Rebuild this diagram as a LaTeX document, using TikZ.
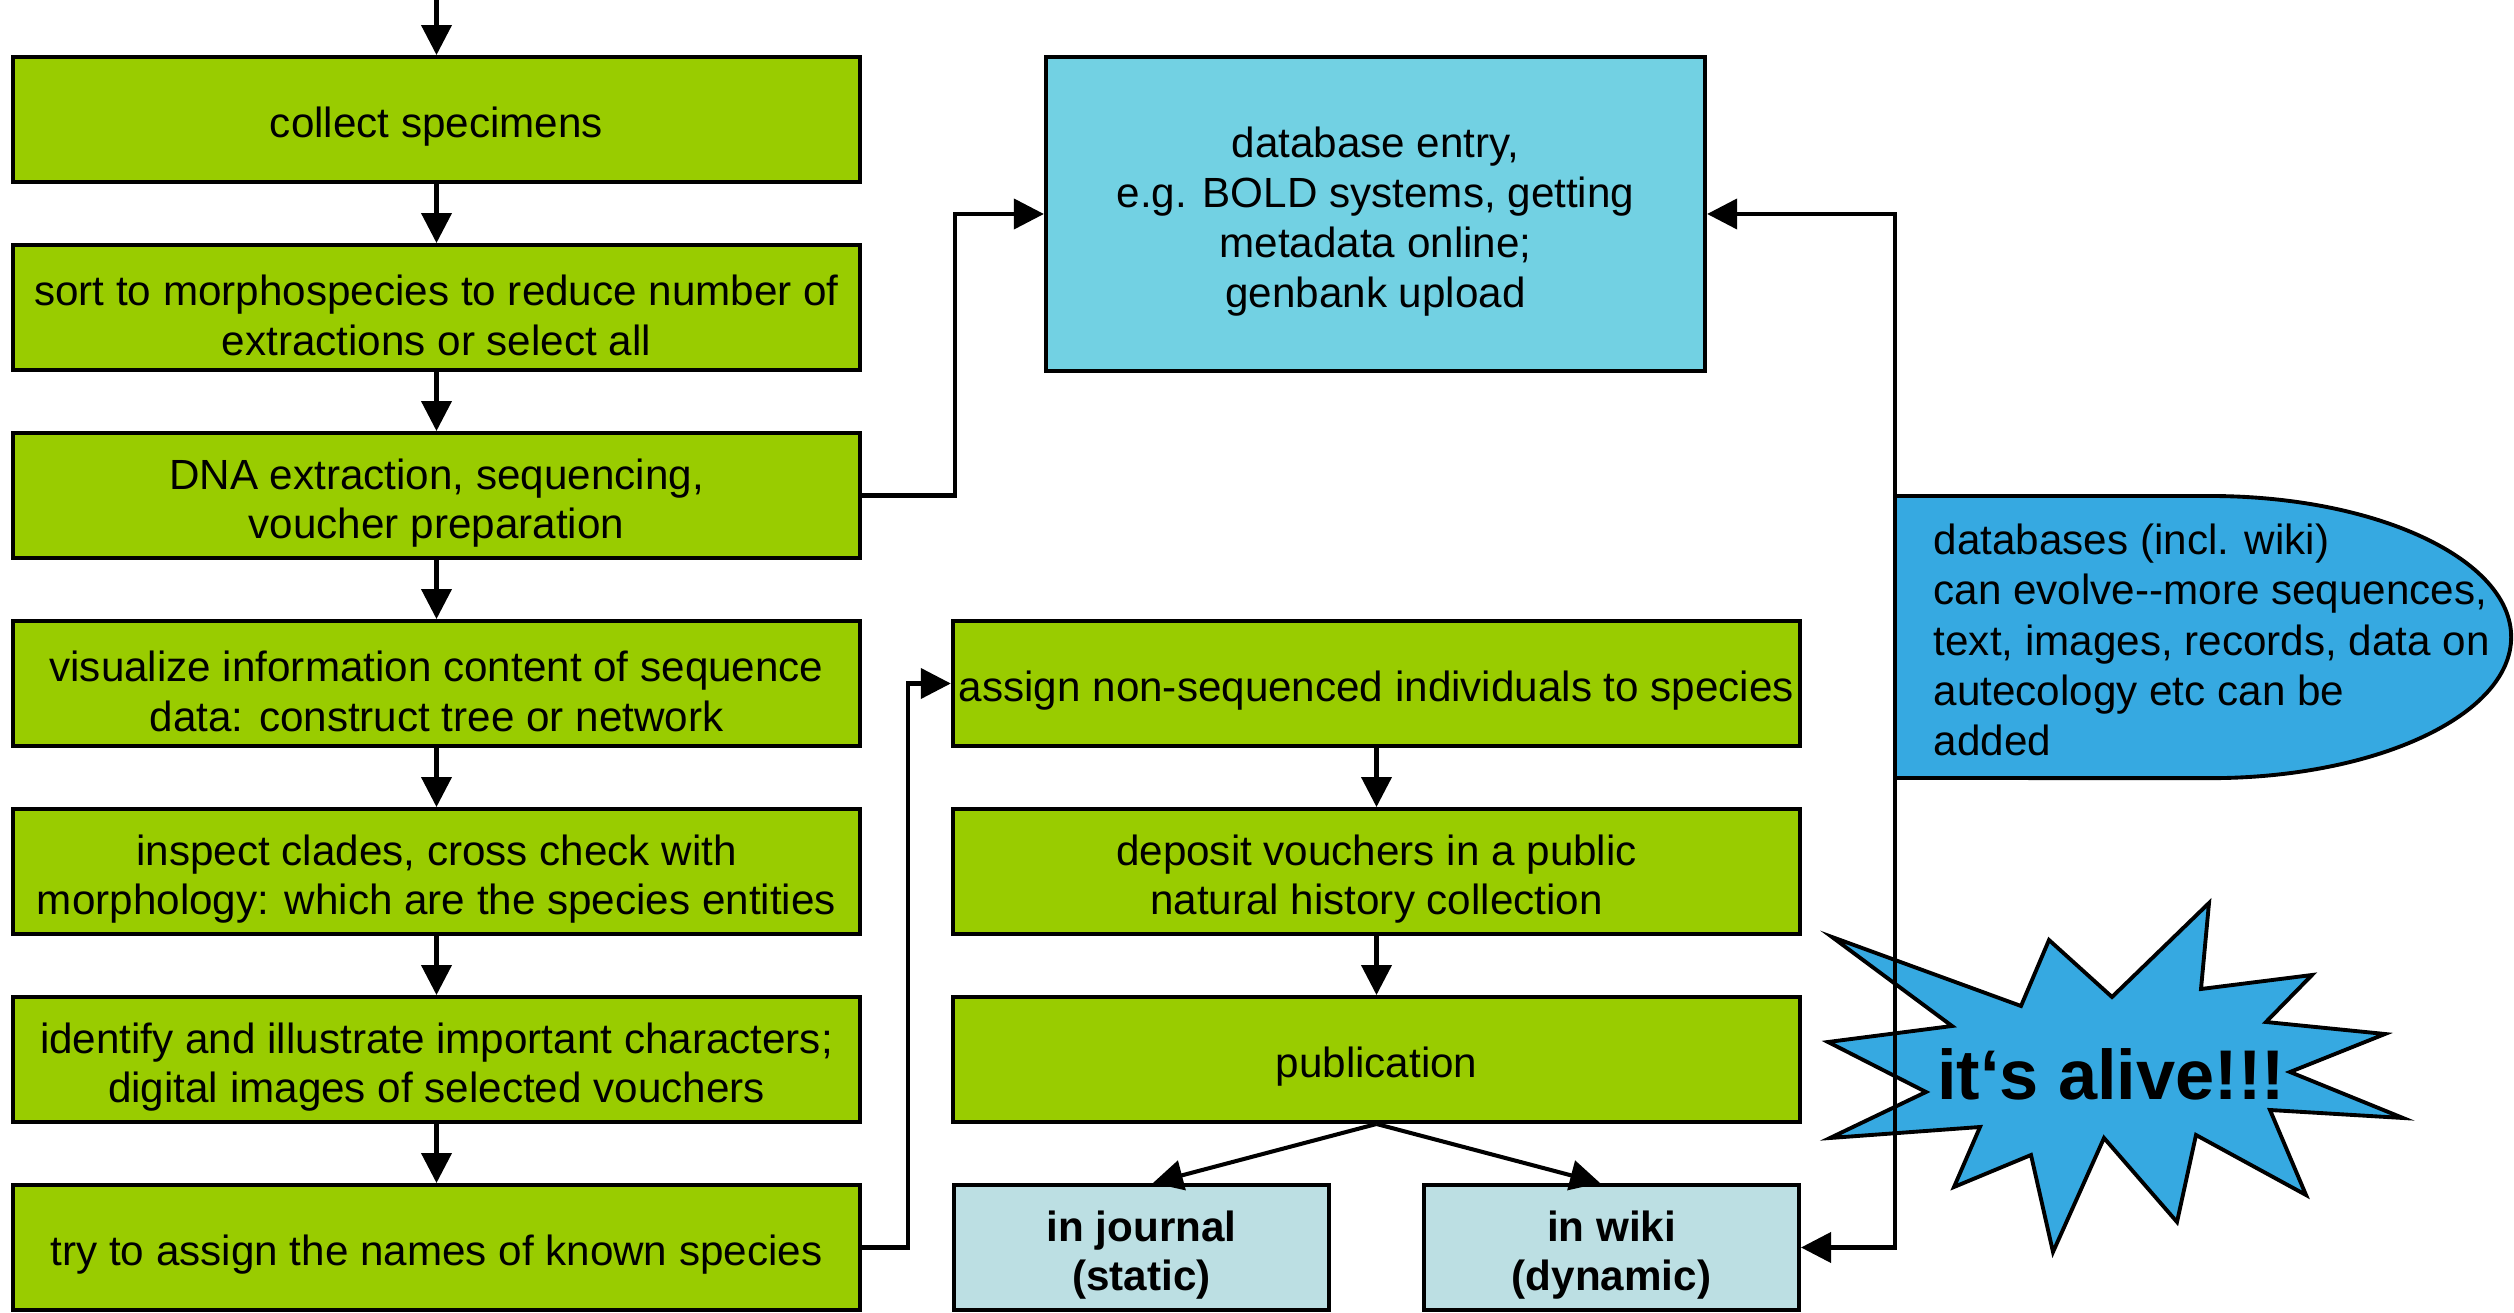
\documentclass[tikz,border=0pt]{standalone}
\usepackage{fontspec}
\setmainfont{Liberation Sans}
\usetikzlibrary{arrows.meta,calc}

\definecolor{stepgreen}{RGB}{153,204,0}
\definecolor{dbcyan}{RGB}{114,209,227}
\definecolor{wikiblue}{RGB}{54,169,225}
\definecolor{pubpale}{RGB}{188,223,227}

% strut that pushes the first line down
\newcommand{\toplift}{\rule{0pt}{13pt}}

\tikzset{
  stepbox/.style={draw, line width=1.1pt, fill=stepgreen, minimum width=8.47cm, minimum height=1.25cm,
    align=center, inner sep=0pt, font=\fontsize{12}{14.2}\selectfont},
  pubbox/.style={stepbox, fill=pubpale, minimum width=3.75cm, font=\fontsize{12}{14.2}\selectfont\bfseries},
  flow/.style={line width=1.15pt, -{Triangle[length=0.3cm,width=0.3cm]}},
  twoway/.style={line width=1.15pt, {Triangle[length=0.3cm,width=0.3cm]}-{Triangle[length=0.3cm,width=0.3cm]}},
}

\begin{document}
\begin{tikzpicture}[x=0.01cm, y=-0.01cm]
\useasboundingbox (0,0) rectangle (2514,1313);

% left column
\coordinate (start) at (436.5,0);
\node[stepbox] (collect) at (436.5,119.5) {\toplift collect specimens};
\node[stepbox] (sort) at (436.5,307.5) {\toplift sort to morphospecies to reduce number of\\extractions or select all};
\node[stepbox] (dna) at (436.5,495.5) {\toplift DNA extraction, sequencing,\\voucher preparation};
\node[stepbox] (visual) at (436.5,683.5) {\toplift visualize information content of sequence\\data: construct tree or network};
\node[stepbox] (inspect) at (436.5,871.5) {\toplift inspect clades, cross check with\\morphology: which are the species entities};
\node[stepbox] (ident) at (436.5,1059.5) {\toplift identify and illustrate important characters;\\digital images of selected vouchers};
\node[stepbox] (try) at (436.5,1247.5) {\toplift try to assign the names of known species};

% database
\node[stepbox, fill=dbcyan, minimum width=6.59cm, minimum height=3.14cm] (db) at (1375.5,214)
  {\toplift database entry,\\e.g. BOLD systems, getting\\metadata online;\\genbank upload};

% middle column
\node[stepbox] (assign) at (1376.5,683.5) {\toplift assign non-sequenced individuals to species};
\node[stepbox] (deposit) at (1376.5,871.5) {\toplift deposit vouchers in a public\\natural history collection};
\node[stepbox] (pub) at (1376.5,1059.5) {\toplift publication};
\node[pubbox] (journal) at (1141.5,1247.5) {\toplift in journal\\(static)};
\node[pubbox] (wiki) at (1611.5,1247.5) {\toplift in wiki\\(dynamic)};

% callout
\draw[fill=wikiblue, line width=1.1pt] (1895,496) -- (2210,496)
  arc[start angle=90, end angle=-90, x radius=3.01cm, y radius=1.41cm] -- (1895,778) -- cycle;
\node[anchor=west, align=left, inner sep=0pt, font=\fontsize{12}{14.3}\selectfont] (wikinote) at (1933,640)
  {databases (incl. wiki)\\can evolve-{}-more sequences,\\text, images, records, data on\\autecology etc can be\\added};

% starburst
\draw[fill=wikiblue, line width=1.1pt] (1832,937) -- (1952,1026) -- (1828,1042) -- (1926,1092)
  -- (1830,1138) -- (1980,1127) -- (1954,1187) -- (2031,1155) -- (2053,1252) -- (2104,1138)
  -- (2177,1222) -- (2196,1135) -- (2306,1195) -- (2270,1110) -- (2403,1118) -- (2290,1072)
  -- (2385,1034) -- (2266,1022) -- (2312,975) -- (2201,989) -- (2209,903) -- (2112,997)
  -- (2049,940) -- (2021,1006) -- cycle;
\node[font=\fontsize{20}{24}\selectfont\bfseries] (alive) at (2111,1074) {it‘s alive!!!};

% connectors
\draw[flow] (start) -- (collect);
\foreach \a/\b in {collect/sort, sort/dna, dna/visual, visual/inspect, inspect/ident, ident/try,
                   assign/deposit, deposit/pub}
  \draw[flow] (\a) -- (\b);
\draw[flow] (dna.east) -- ++(93,0) |- (db.west);
\draw[flow] (try.east) -- ++(46,0) |- (assign.west);
\draw[flow] (pub.south) -- (journal.80);
\draw[flow] (pub.south) -- (wiki.100);
\coordinate (rail) at (1895,700);
\draw[twoway] (db.east) -| (rail) |- (wiki.east);
\end{tikzpicture}
\end{document}
